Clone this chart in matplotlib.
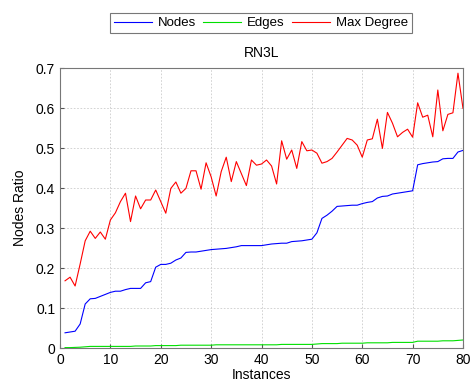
import numpy as np
from matplotlib import pyplot as plt

instances = np.arange(1, 81)

nodes = [0.038, 0.040, 0.042, 0.060, 0.110, 0.123, 0.124, 0.129, 0.134, 0.139,
         0.142, 0.142, 0.146, 0.149, 0.149, 0.149, 0.163, 0.166, 0.202, 0.209,
         0.209, 0.212, 0.220, 0.225, 0.239, 0.240, 0.240, 0.242, 0.244, 0.246,
         0.247, 0.248, 0.249, 0.251, 0.253, 0.256, 0.256, 0.256, 0.256, 0.256,
         0.258, 0.260, 0.261, 0.262, 0.262, 0.266, 0.267, 0.268, 0.270, 0.272,
         0.288, 0.324, 0.332, 0.342, 0.354, 0.355, 0.356, 0.357, 0.357, 0.361,
         0.364, 0.366, 0.375, 0.379, 0.380, 0.385, 0.387, 0.389, 0.391, 0.393,
         0.458, 0.461, 0.463, 0.465, 0.466, 0.473, 0.474, 0.474, 0.490, 0.494]

edges = [0.001, 0.001, 0.0015, 0.002, 0.003, 0.004, 0.004, 0.004, 0.004, 0.004,
         0.004, 0.004, 0.004, 0.004, 0.005, 0.005, 0.005, 0.005, 0.006, 0.006,
         0.006, 0.006, 0.006, 0.007, 0.007, 0.007, 0.007, 0.007, 0.007, 0.007,
         0.008, 0.008, 0.008, 0.008, 0.008, 0.008, 0.008, 0.008, 0.008, 0.008,
         0.008, 0.008, 0.008, 0.009, 0.009, 0.009, 0.009, 0.009, 0.009, 0.009,
         0.010, 0.011, 0.011, 0.011, 0.011, 0.012, 0.012, 0.012, 0.012, 0.012,
         0.013, 0.013, 0.013, 0.013, 0.013, 0.014, 0.014, 0.014, 0.014, 0.014,
         0.017, 0.017, 0.017, 0.017, 0.017, 0.018, 0.018, 0.018, 0.019, 0.020]

max_degree = [0.168, 0.177, 0.155, 0.210, 0.268, 0.292, 0.274, 0.290, 0.272, 0.320,
              0.338, 0.366, 0.387, 0.316, 0.380, 0.348, 0.370, 0.370, 0.395, 0.366,
              0.337, 0.399, 0.415, 0.387, 0.399, 0.443, 0.443, 0.397, 0.463, 0.428,
              0.380, 0.441, 0.477, 0.416, 0.466, 0.436, 0.406, 0.470, 0.457, 0.460,
              0.470, 0.455, 0.410, 0.518, 0.472, 0.495, 0.449, 0.516, 0.493, 0.495,
              0.487, 0.462, 0.466, 0.474, 0.490, 0.507, 0.524, 0.520, 0.507, 0.477,
              0.520, 0.523, 0.572, 0.499, 0.589, 0.562, 0.528, 0.539, 0.547, 0.527,
              0.613, 0.577, 0.582, 0.528, 0.645, 0.543, 0.584, 0.588, 0.687, 0.599]

plt.rcParams['font.family'] = 'Liberation Sans'
fig = plt.figure(figsize=(4.7, 3.81), dpi=100)
ax = fig.add_axes([60 / 470, 33 / 381, 403 / 470, 280 / 381])

ax.plot(instances, nodes, color='#0000ff', lw=0.8, label='Nodes')
ax.plot(instances, edges, color='#00e000', lw=0.8, label='Edges')
ax.plot(instances, max_degree, color='#ff0000', lw=0.8, label='Max Degree')

ax.set_xlim(0, 80)
ax.set_ylim(0, 0.7)
ax.set_xticks(range(0, 81, 10))
ax.set_yticks(np.arange(0, 0.71, 0.1))
ax.set_yticklabels(['0', '0.1', '0.2', '0.3', '0.4', '0.5', '0.6', '0.7'])
ax.tick_params(direction='in', labelsize=10, length=3, color='#555555')
ax.grid(True, linestyle=(0, (2, 2)), color='#cccccc', lw=0.6)
for s in ax.spines.values():
    s.set_color('#777777')

ax.set_title('RN3L', fontsize=10, pad=8)
ax.set_xlabel('Instances', fontsize=10, labelpad=1)
ax.set_ylabel('Nodes Ratio', fontsize=10, labelpad=6)

leg = fig.legend(loc='center', bbox_to_anchor=(261 / 470, 1 - 23 / 381), ncol=3,
                 fontsize=9.5, frameon=True, fancybox=False, handlelength=2.9,
                 columnspacing=0.5, handletextpad=0.45, borderpad=0.3,
                 borderaxespad=0)
leg.get_frame().set_edgecolor('#555555')
leg.get_frame().set_linewidth(0.8)

fig.savefig('out.png', dpi=100)
